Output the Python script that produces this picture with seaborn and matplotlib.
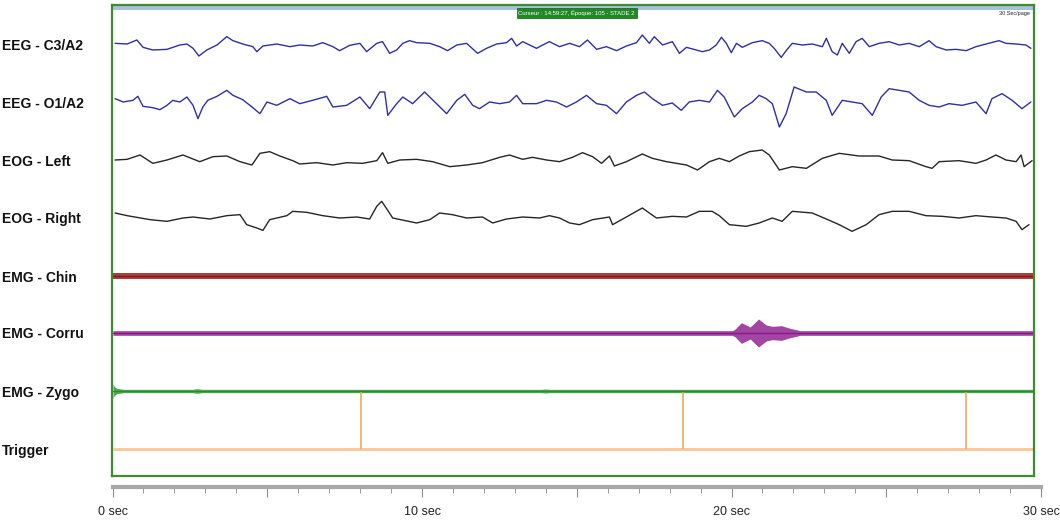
import numpy as np
import pandas as pd
import matplotlib
matplotlib.use("Agg")
import matplotlib.pyplot as plt
import matplotlib.transforms as mtransforms
from matplotlib.ticker import FixedLocator, FixedFormatter, MultipleLocator
import seaborn as sns

# ---------------- data (time in s, amplitude in arbitrary units) ----------------
channels = ["EEG - C3/A2", "EEG - O1/A2", "EOG - Left", "EOG - Right",
            "EMG - Chin", "EMG - Corru", "EMG - Zygo", "Trigger"]

c3_t = [0.07,0.46,0.78,0.98,1.30,1.76,2.18,2.41,2.61,2.80,3.06,3.39,3.71,3.91,4.23,
        4.56,4.69,4.89,5.34,5.77,6.09,6.51,6.84,7.17,7.39,7.72,8.05,8.27,8.60,8.79,
        9.02,9.25,9.45,9.67,9.90,10.33,10.65,10.91,11.21,11.53,11.89,12.18,12.51,12.83,13.00,
        13.16,13.36,13.81,14.01,14.23,14.56,14.89,15.21,15.47,15.77,16.09,16.42,16.74,17.07,17.26,
        17.49,17.65,17.92,18.24,18.47,18.70,19.02,19.22,19.45,19.67,19.84,20.00,20.16,20.33,20.52,
        20.85,21.17,21.40,21.56,21.79,21.95,22.15,22.48,22.80,23.13,23.26,23.45,23.62,23.78,24.01,
        24.23,24.43,24.66,24.98,25.31,25.64,25.96,26.29,26.61,26.84,27.17,27.49,27.82,28.14,28.47,
        28.89,29.12,29.45,29.77,29.93]
c3_v = [5,3,15,-7,-15,-13,0,3,-10,-33,-15,0,25,13,3,
        -5,-20,-3,3,-5,0,-3,7,-5,-17,-1,5,-20,5,10,
        -25,-15,5,13,7,5,-5,-17,0,5,-25,-10,3,7,20,
        -3,10,-10,0,10,-5,5,-5,15,-13,-5,-17,-3,7,30,
        5,25,0,10,-25,-7,-15,-20,-15,0,23,5,-23,5,-7,
        7,13,5,-10,-37,-17,5,0,3,-5,20,-20,-30,5,-25,
        10,20,-5,5,10,0,5,-5,13,-5,-15,-13,-17,-5,3,
        13,5,3,0,-10]

o1_t = [0.07,0.33,0.65,0.81,0.98,1.30,1.53,1.76,1.95,2.18,2.41,2.61,2.77,2.93,3.09,
        3.39,3.71,3.91,4.23,4.56,4.79,5.02,5.34,5.77,6.09,6.51,6.97,7.17,7.62,8.05,
        8.37,8.70,8.86,8.96,9.25,9.45,9.77,10.16,10.55,10.88,11.21,11.47,11.73,11.95,12.28,
        12.61,12.93,13.16,13.36,13.81,14.14,14.46,14.79,15.11,15.44,15.77,16.09,16.42,16.74,17.07,
        17.33,17.59,17.92,18.24,18.53,18.79,19.12,19.45,19.71,19.93,20.26,20.52,20.85,21.07,21.30,
        21.50,21.73,21.95,22.21,22.61,22.93,23.26,23.45,23.78,24.10,24.43,24.76,25.05,25.31,25.64,
        25.96,26.29,26.61,26.94,27.26,27.69,28.14,28.47,28.66,28.99,29.32,29.64,29.93]
o1_v = [10,0,5,17,-13,-17,-23,-10,5,0,15,-10,-50,-15,5,
        17,35,20,7,-17,-35,0,-10,10,-5,5,17,-15,-10,15,
        -20,30,30,-40,-5,15,-5,30,-5,-35,5,23,-10,-20,0,
        -5,0,20,-5,-5,5,0,-15,0,20,-5,-10,-35,0,20,
        30,10,-10,-3,-25,0,5,0,35,15,-45,-20,0,20,10,
        -5,-75,-35,45,30,30,5,-40,5,0,-5,-40,15,40,35,
        30,5,-10,-15,-5,-10,0,-35,10,25,5,-20,0]

eogl_t = [0.07,0.46,0.88,1.30,1.76,2.28,2.83,3.26,3.71,4.14,4.53,4.79,5.11,5.44,5.86,
          6.09,6.64,7.17,7.62,8.14,8.60,8.79,8.96,9.35,9.90,10.42,10.98,11.53,12.05,12.61,
          12.93,13.36,13.68,14.14,14.56,14.98,15.31,15.64,15.93,16.19,16.35,16.74,17.26,17.59,18.05,
          18.70,19.06,19.45,19.77,20.10,20.42,20.75,21.17,21.40,21.73,22.15,22.61,23.13,23.68,24.33,
          24.98,25.41,25.96,26.51,26.71,26.94,27.59,28.14,28.47,28.79,29.12,29.45,29.61,29.71,29.97]
eogl_v = [0,2,15,-10,0,15,-5,10,12,-5,-15,20,25,12,-2,
          -12,-8,-15,-8,-10,-2,22,-10,0,2,-5,-20,-15,-8,8,
          15,2,8,0,-5,8,22,10,-10,12,-18,-5,18,5,-5,
          -15,-30,-5,5,-5,12,25,30,15,-30,-20,-25,5,20,12,
          12,0,-2,-20,-25,-5,-2,-10,0,15,0,-5,15,-20,-2]

eogr_t = [0.07,0.46,1.21,1.76,2.28,2.61,3.16,3.71,4.14,4.36,4.69,4.89,5.11,5.67,5.86,
          6.32,6.84,7.39,7.95,8.37,8.60,8.76,8.93,9.12,9.90,10.33,10.65,11.07,11.53,12.05,
          12.38,12.83,13.36,13.91,14.23,14.56,14.89,15.21,15.64,16.19,16.29,16.74,17.26,17.72,18.24,
          18.70,19.12,19.54,19.77,20.10,20.65,21.07,21.50,21.82,22.15,22.80,23.26,23.68,24.10,24.56,
          24.98,25.41,25.96,26.51,27.04,27.59,28.14,28.66,29.12,29.45,29.64,29.87]
eogr_v = [15,7,-5,-10,0,3,-3,7,10,-20,-30,-37,-5,7,20,
          17,7,0,3,-3,35,50,27,0,-15,-5,15,10,0,3,
          -15,-3,3,0,7,0,-15,-20,-5,3,-20,3,30,0,5,
          3,20,20,7,-20,-25,-15,0,-10,20,15,-3,-20,-40,-20,
          10,20,20,7,5,0,7,3,0,-10,-35,-20]

# EMG envelopes (half amplitude)
chin_t = [0.0, 30.0]
chin_a = [9, 9]
corru_t = [0.0, 20.20, 20.29, 20.49, 20.78, 21.05, 21.30, 21.50, 21.80, 22.08, 22.28, 22.40, 30.0]
corru_a = [7, 7, 12, 31, 18, 42, 24, 20, 22, 14, 10, 7, 7]
zygo_t = [0.0, 0.04, 0.12, 0.35, 2.60, 2.74, 2.90, 13.95, 14.10, 14.25, 30.0]
zygo_a = [22, 14, 8, 5, 5, 7, 5, 5, 6, 5, 5]

# Trigger pulses
trig_t = [8.08, 18.60, 27.82]
trig_h = [171, 171, 171]

header_text = "Curseur : 14:59:27, Époque: 105 - STADE 2"
page_text = "30 Sec/page"
tick_secs = [0, 5, 10, 15, 20, 25, 30]
tick_labels = ["0 sec", "", "10 sec", "", "20 sec", "", "30 sec"]

# ---------------- style / layout ----------------
sns.set_theme(style="white")
plt.rcParams['font.family'] = ['Liberation Sans', 'DejaVu Sans']

W, H = 1060, 526
fig = plt.figure(figsize=(W / 100, H / 100), dpi=100)


def rect(x0, y0, x1, y1):
    return [x0 / W, 1 - y1 / H, (x1 - x0) / W, (y1 - y0) / H]


PX_PER_S = 30.7
ax = fig.add_axes(rect(112, 5, 1034, 476))
ax.set_xlim(-1 / PX_PER_S, 30 + 1 / PX_PER_S)
ax.set_ylim(476, 5)
SCALE = 1 / 3.0

baselines = [45, 102, 160, 218, 276, 333, 391, 449]
colors = {"EEG - C3/A2": "#2f2fa6", "EEG - O1/A2": "#2f2fa6",
          "EOG - Left": "#262626", "EOG - Right": "#262626"}

frames = []
for name, tt, vv, b in [("EEG - C3/A2", c3_t, c3_v, baselines[0]),
                        ("EEG - O1/A2", o1_t, o1_v, baselines[1]),
                        ("EOG - Left", eogl_t, eogl_v, baselines[2]),
                        ("EOG - Right", eogr_t, eogr_v, baselines[3])]:
    frames.append(pd.DataFrame({"t": tt, "y": b - np.asarray(vv) * SCALE, "channel": name}))
df = pd.concat(frames, ignore_index=True)
sns.lineplot(data=df, x="t", y="y", hue="channel", palette=colors, estimator=None,
             sort=False, legend=False, lw=1.0, ax=ax)

# EMG bands
for tt, aa, b, col in [(chin_t, chin_a, baselines[4], "#8f1010"),
                       (corru_t, corru_a, baselines[5], "#8c168c"),
                       (zygo_t, zygo_a, baselines[6], "#23922a")]:
    aa = np.asarray(aa) * SCALE
    ax.fill_between(tt, b - aa, b + aa, color=col, lw=0, alpha=0.8)
    ax.plot([tt[0], tt[-1]], [b, b], color=col, lw=1.0)

# Trigger
ax.hlines(baselines[7], 0, 30, color="#ffbf85", lw=2.0, alpha=0.9)
ax.vlines(trig_t, baselines[7], baselines[7] - np.asarray(trig_h) * SCALE,
          color="#f7a04d", lw=1.1)

# frame
for s in ax.spines.values():
    s.set_color("#3f8c30")
    s.set_linewidth(1.6)
    s.set_visible(True)
ax.set_xticks([])
ax.set_yticks([])
ax.set_xlabel("")
ax.set_ylabel("")
ax.axhspan(6, 9.5, color="#a9bfdc", lw=0)

blend = mtransforms.blended_transform_factory(ax.transAxes, ax.transData)
ax.text(0.504, 13, header_text, transform=blend, ha="center", va="center",
        fontsize=4.3, color="white",
        bbox=dict(boxstyle="square,pad=0.3", fc="#1f8a24", ec="#0f6012", lw=0.5))
ax.text(0.996, 13, page_text, transform=blend, ha="right", va="center",
        fontsize=4.0, color="#222222")

lab_tr = mtransforms.blended_transform_factory(fig.transFigure, ax.transData)
for name, b in zip(channels, baselines):
    ax.text(2 / W, b + 1.5, name, transform=lab_tr, ha="left", va="center",
            fontsize=10, fontweight="bold", color="#111111", clip_on=False)

# time ruler
ax2 = fig.add_axes(rect(112.5, 480, 1041, 487))
ax2.set_xlim(0, 30)
ax2.set_yticks([])
for side in ["top", "left", "right"]:
    ax2.spines[side].set_visible(False)
ax2.spines["bottom"].set_color("#a8a8a8")
ax2.spines["bottom"].set_linewidth(3.0)
ax2.patch.set_alpha(0)
ax2.xaxis.set_major_locator(FixedLocator(tick_secs))
ax2.xaxis.set_major_formatter(FixedFormatter(tick_labels))
ax2.xaxis.set_minor_locator(MultipleLocator(1))
ax2.tick_params(axis="x", which="major", bottom=True, length=7, width=0.8,
                color="#8c8c8c", labelsize=9, labelcolor="#222222", pad=7)
ax2.tick_params(axis="x", which="minor", bottom=True, length=4.5, width=0.7,
                color="#9a9a9a")
ax2.set_xlabel("")

fig.savefig("out.png", dpi=100)
